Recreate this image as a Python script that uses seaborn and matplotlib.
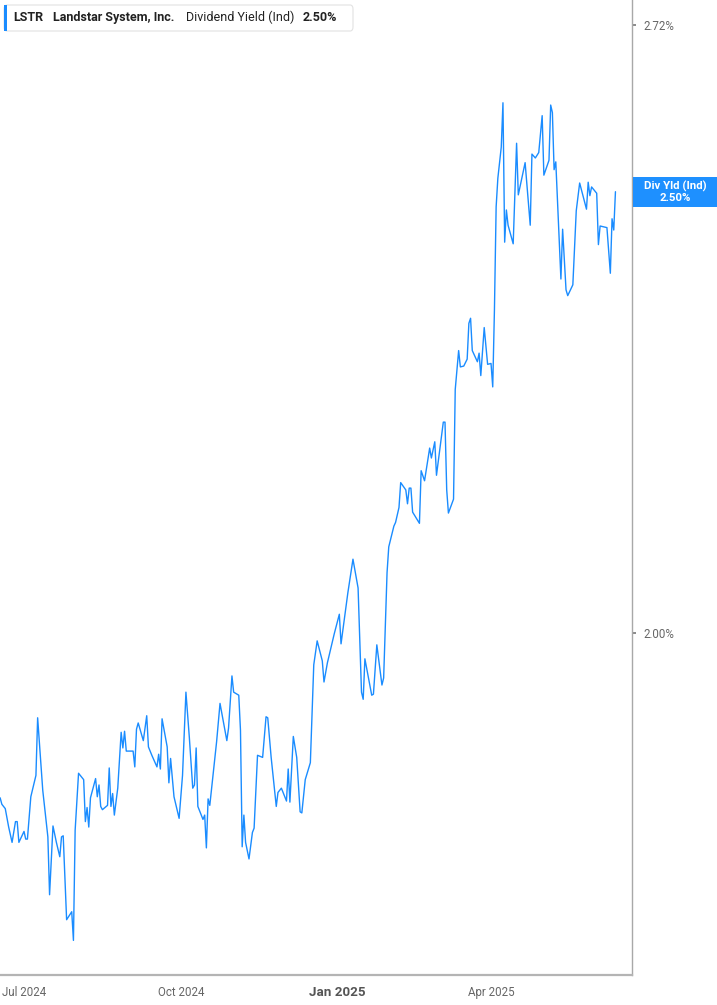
import matplotlib
matplotlib.use("Agg")

import pandas as pd
import matplotlib.pyplot as plt
import seaborn as sns
from matplotlib.patches import FancyBboxPatch, Rectangle

# -------------------------
# DATA
# -------------------------
dates = [
    "2024-06-17", "2024-06-18", "2024-06-20", "2024-06-22", "2024-06-24", "2024-06-26", "2024-06-27", "2024-06-28",
    "2024-07-01", "2024-07-02", "2024-07-03", "2024-07-05", "2024-07-08", "2024-07-09", "2024-07-12", "2024-07-15",
    "2024-07-16", "2024-07-18", "2024-07-20", "2024-07-22", "2024-07-23", "2024-07-24", "2024-07-26", "2024-07-29",
    "2024-07-30", "2024-07-31", "2024-08-02", "2024-08-05", "2024-08-06", "2024-08-07", "2024-08-08", "2024-08-09",
    "2024-08-12", "2024-08-13", "2024-08-14", "2024-08-15", "2024-08-16", "2024-08-19", "2024-08-20", "2024-08-21",
    "2024-08-22", "2024-08-23", "2024-08-25", "2024-08-27", "2024-08-28", "2024-08-29", "2024-08-30", "2024-09-03",
    "2024-09-04", "2024-09-05", "2024-09-06", "2024-09-09", "2024-09-11", "2024-09-12", "2024-09-14", "2024-09-17",
    "2024-09-18", "2024-09-19", "2024-09-20", "2024-09-23", "2024-09-24", "2024-09-25", "2024-09-27", "2024-09-30",
    "2024-10-02", "2024-10-04", "2024-10-06", "2024-10-08", "2024-10-09", "2024-10-10", "2024-10-11", "2024-10-14",
    "2024-10-15", "2024-10-16", "2024-10-17", "2024-10-18", "2024-10-20", "2024-10-22", "2024-10-24", "2024-10-28",
    "2024-10-29", "2024-10-31", "2024-11-01", "2024-11-04", "2024-11-05", "2024-11-06", "2024-11-07", "2024-11-08",
    "2024-11-10", "2024-11-12", "2024-11-13", "2024-11-15", "2024-11-18", "2024-11-20", "2024-11-21", "2024-11-23",
    "2024-11-26", "2024-11-27", "2024-11-29", "2024-12-02", "2024-12-03", "2024-12-04", "2024-12-06", "2024-12-08",
    "2024-12-10", "2024-12-11", "2024-12-13", "2024-12-16", "2024-12-18", "2024-12-20", "2024-12-23", "2024-12-24",
    "2024-12-26", "2024-12-30", "2025-01-02", "2025-01-03", "2025-01-07", "2025-01-10", "2025-01-13", "2025-01-15",
    "2025-01-16", "2025-01-17", "2025-01-21", "2025-01-22", "2025-01-24", "2025-01-27", "2025-01-28", "2025-01-30",
    "2025-01-31", "2025-02-03", "2025-02-04", "2025-02-06", "2025-02-07", "2025-02-10", "2025-02-11", "2025-02-12",
    "2025-02-13", "2025-02-14", "2025-02-18", "2025-02-19", "2025-02-21", "2025-02-24", "2025-02-25", "2025-02-27",
    "2025-02-28", "2025-03-04", "2025-03-05", "2025-03-06", "2025-03-07", "2025-03-10", "2025-03-11", "2025-03-13",
    "2025-03-14", "2025-03-16", "2025-03-18", "2025-03-19", "2025-03-20", "2025-03-21", "2025-03-24", "2025-03-25",
    "2025-03-26", "2025-03-28", "2025-03-30", "2025-04-01", "2025-04-02", "2025-04-03", "2025-04-04", "2025-04-05",
    "2025-04-07", "2025-04-08", "2025-04-09", "2025-04-10", "2025-04-11", "2025-04-14", "2025-04-16", "2025-04-17",
    "2025-04-21", "2025-04-24", "2025-04-25", "2025-04-27", "2025-04-29", "2025-05-01", "2025-05-02", "2025-05-05",
    "2025-05-06", "2025-05-07", "2025-05-08", "2025-05-09", "2025-05-12", "2025-05-13", "2025-05-15", "2025-05-16",
    "2025-05-19", "2025-05-21", "2025-05-23", "2025-05-27", "2025-05-28", "2025-05-29", "2025-05-30", "2025-06-02",
    "2025-06-03", "2025-06-04", "2025-06-08", "2025-06-10", "2025-06-11", "2025-06-12", "2025-06-13",
]

div_yield = [
    1.840, 1.834, 1.830, 1.813, 1.799, 1.818, 1.818, 1.799,
    1.809, 1.802, 1.802, 1.841, 1.861, 1.916, 1.847, 1.804,
    1.752, 1.814, 1.799, 1.786, 1.804, 1.805, 1.730, 1.737,
    1.712, 1.810, 1.863, 1.857, 1.818, 1.831, 1.813, 1.840,
    1.858, 1.841, 1.852, 1.832, 1.829, 1.833, 1.868, 1.832,
    1.844, 1.824, 1.849, 1.902, 1.887, 1.903, 1.884, 1.884,
    1.869, 1.905, 1.911, 1.894, 1.918, 1.888, 1.880, 1.869,
    1.881, 1.867, 1.915, 1.888, 1.854, 1.877, 1.841, 1.821,
    1.861, 1.941, 1.897, 1.849, 1.852, 1.887, 1.832, 1.820,
    1.824, 1.794, 1.839, 1.833, 1.863, 1.893, 1.930, 1.894,
    1.906, 1.957, 1.941, 1.938, 1.904, 1.795, 1.824, 1.799,
    1.784, 1.808, 1.812, 1.880, 1.878, 1.917, 1.916, 1.878,
    1.832, 1.845, 1.849, 1.837, 1.867, 1.836, 1.898, 1.878,
    1.827, 1.826, 1.857, 1.873, 1.968, 1.992, 1.972, 1.951,
    1.970, 1.999, 2.019, 1.989, 2.041, 2.076, 2.046, 1.941,
    1.934, 1.974, 1.938, 1.939, 1.988, 1.948, 1.955, 2.062,
    2.089, 2.111, 2.115, 2.131, 2.158, 2.150, 2.135, 2.152,
    2.152, 2.126, 2.114, 2.171, 2.160, 2.196, 2.185, 2.203,
    2.166, 2.225, 2.225, 2.150, 2.125, 2.140, 2.262, 2.307,
    2.288, 2.289, 2.297, 2.339, 2.345, 2.307, 2.294, 2.304,
    2.278, 2.334, 2.291, 2.292, 2.265, 2.355, 2.481, 2.517,
    2.557, 2.615, 2.437, 2.477, 2.458, 2.435, 2.562, 2.496,
    2.537, 2.458, 2.548, 2.543, 2.550, 2.598, 2.521, 2.540,
    2.612, 2.602, 2.528, 2.538, 2.392, 2.453, 2.379, 2.372,
    2.385, 2.476, 2.511, 2.478, 2.512, 2.495, 2.506, 2.498,
    2.434, 2.457, 2.455, 2.399, 2.466, 2.452, 2.500,
]

y_ticks = [2.00, 2.72]
y_tick_labels = ["2.00%", "2.72%"]
x_ticks = ["2024-07-01", "2024-10-01", "2025-01-01", "2025-04-01"]
x_tick_labels = ["Jul 2024", "Oct 2024", "Jan 2025", "Apr 2025"]

ticker = "LSTR"
company = "Landstar System, Inc."
metric = "Dividend Yield (Ind)"
last_label = "2.50%"

LINE_BLUE = "#1a8cff"
TAG_BLUE = "#1e90ff"
AXIS_GREY = "#a8a8a8"
TEXT_GREY = "#666666"

df = pd.DataFrame({
    "date": pd.to_datetime(dates),
    "yield": div_yield
})

# -------------------------
# FIGURE
# -------------------------
sns.set_style("white")
plt.rcParams["font.family"] = ["Roboto", "DejaVu Sans"]

W, H = 717, 1005
fig = plt.figure(figsize=(W / 100, H / 100), dpi=100)

ax_right = 632
ax_bottom = 975
ax = fig.add_axes([0, (H - ax_bottom) / H, ax_right / W, ax_bottom / H])

sns.lineplot(
    data=df,
    x="date",
    y="yield",
    color=LINE_BLUE,
    linewidth=1.0,
    ax=ax
)

ax.set_yscale("log")
ax.set_ylim(1.6823, 2.7545)
ax.set_xlim(pd.Timestamp("2024-06-16 22:00"), pd.Timestamp("2025-06-22 17:00"))

ax.set_xlabel("")
ax.set_ylabel("")

# spines
for side in ["top", "left"]:
    ax.spines[side].set_visible(False)
ax.spines["bottom"].set_color("#b4b4b4")
ax.spines["bottom"].set_linewidth(1.6)
ax.spines["right"].set_color(AXIS_GREY)
ax.spines["right"].set_linewidth(1.0)

# y axis on the right
ax.yaxis.tick_right()
ax.yaxis.set_label_position("right")
ax.yaxis.set_minor_locator(matplotlib.ticker.NullLocator())
ax.set_yticks(y_ticks)
ax.set_yticklabels(y_tick_labels)
ax.tick_params(
    axis="y", which="major", direction="out", length=3, width=1.2,
    color="#777777", pad=5, labelsize=8.3, labelcolor=TEXT_GREY
)

# x axis
ax.set_xticks(pd.to_datetime(x_ticks))
ax.set_xticklabels(x_tick_labels)
ax.tick_params(
    axis="x", direction="out", length=4, width=1,
    color="#999999", pad=4, labelsize=8.3, labelcolor=TEXT_GREY
)
for lab in ax.get_xticklabels():
    if lab.get_text().startswith("Jan"):
        lab.set_fontweight("bold")
        lab.set_fontsize(9.6)
        lab.set_color("#555555")

ax.grid(False)


def fx(px):
    return px / W


def fy(py):
    return 1 - py / H


# -------------------------
# LEGEND BOX (top left)
# -------------------------
box = FancyBboxPatch(
    (fx(4), fy(31)), fx(349), 26 / H,
    boxstyle="round,pad=0,rounding_size=0.004",
    transform=fig.transFigure,
    facecolor="white", edgecolor="#e2e2e2", linewidth=0.8, zorder=5
)
fig.patches.append(box)
bar = Rectangle(
    (fx(4), fy(31)), fx(3), 26 / H,
    transform=fig.transFigure,
    facecolor=LINE_BLUE, edgecolor="none", zorder=6
)
fig.patches.append(bar)

legend_parts = [
    (13, ticker, "bold"),
    (53, company, "bold"),
    (186, metric, "normal"),
    (303, last_label, "bold"),
]
for px, txt, weight in legend_parts:
    fig.text(fx(px), fy(17.5), txt, fontsize=9, fontweight=weight,
             color="#222222", va="center", ha="left", zorder=8)

# -------------------------
# LAST VALUE TAG (right)
# -------------------------
tag = Rectangle(
    (fx(633), fy(207)), fx(84), 30 / H,
    transform=fig.transFigure,
    facecolor=TAG_BLUE, edgecolor="none", zorder=6
)
fig.patches.append(tag)
fig.text(fx(675), fy(186), "Div Yld (Ind)", fontsize=8.2, fontweight="bold",
         color="white", va="center", ha="center", zorder=8)
fig.text(fx(675), fy(198), last_label, fontsize=8.2, fontweight="bold",
         color="white", va="center", ha="center", zorder=8)

fig.savefig("out.png", dpi=100)
plt.close(fig)
